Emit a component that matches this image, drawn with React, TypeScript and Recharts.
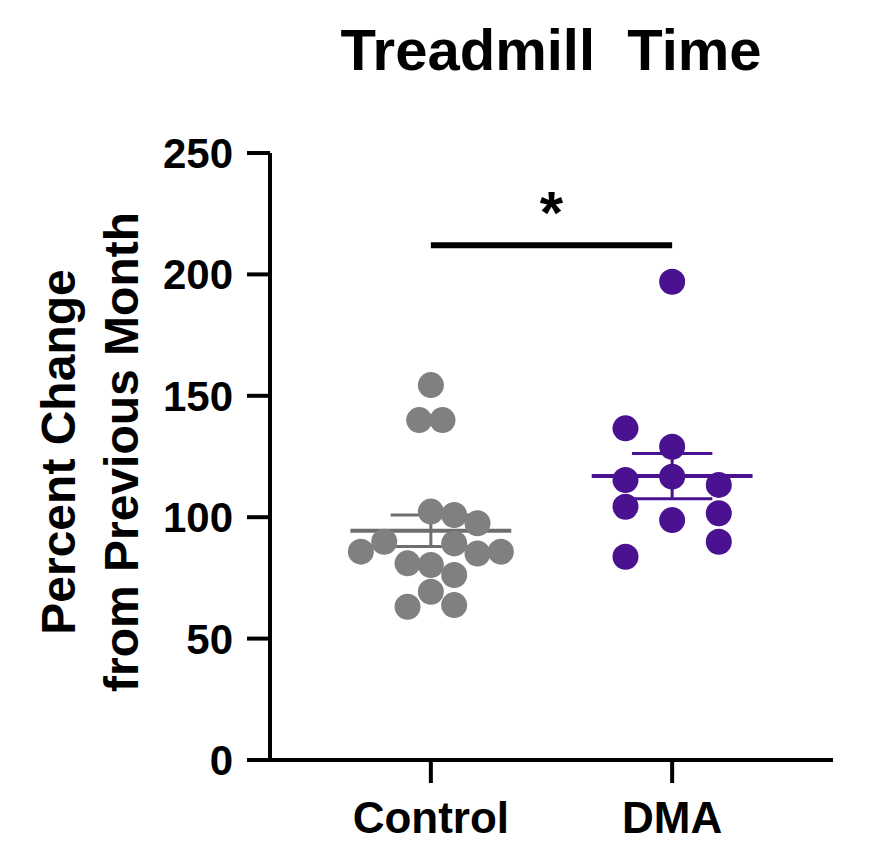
import React from 'react';
import { ScatterChart, Scatter, XAxis, YAxis, ReferenceLine } from 'recharts';

// group names and where they sit on the x scale
const groups = ['Control', 'DMA'];
const groupCenters = [1, 2.5];

// percent change values
const controlValues = [154.4, 140, 140, 102.3, 100.9, 97.5, 89.2, 89.9, 85.8, 81, 80.3, 85, 85.8, 76.2, 69.3, 63.1, 63.8];
const dmaValues = [197, 136.6, 129, 115.3, 116.7, 113.3, 104.3, 101.6, 98.8, 89.9, 83.7];

// beeswarm slot of each point (how many dot-steps left/right of the group center)
const controlSlots = [0, -0.5, 0.5, 0, 1, 2, 1, -2, -3, -1, 0, 2, 3, 1, 0, -1, 1];
const dmaSlots = [0, -2, 0, -2, 0, 2, -2, 2, 0, 2, -2];

const yTicks = [0, 50, 100, 150, 200, 250];
const significance = '*';

const FONT = '"Liberation Sans", Arial, sans-serif';
const GRAY = '#808080';
const PURPLE = '#4a1290';
const SLOT = 0.145;

const toPoints = (values: number[], slots: number[], center: number) =>
  values.map((v, i) => ({ x: center + slots[i] * SLOT, y: v }));

const mean = (a: number[]) => a.reduce((s, v) => s + v, 0) / a.length;
const sem = (a: number[]) => {
  const m = mean(a);
  const sd = Math.sqrt(a.reduce((s, v) => s + (v - m) * (v - m), 0) / (a.length - 1));
  return sd / Math.sqrt(a.length);
};

const controlData = toPoints(controlValues, controlSlots, groupCenters[0]);
const dmaData = toPoints(dmaValues, dmaSlots, groupCenters[1]);

const dot = (color: string) => (props: any) => (
  <circle cx={props.cx} cy={props.cy} r={13} fill={color} />
);

// mean line + SEM whiskers for one group
function summaryLines(values: number[], center: number, color: string, key: string) {
  const m = mean(values);
  const e = sem(values);
  return [
    <ReferenceLine key={key + 'm'} segment={[{ x: center - 0.5, y: m }, { x: center + 0.5, y: m }]} stroke={color} strokeWidth={4} ifOverflow="visible" />,
    <ReferenceLine key={key + 'u'} segment={[{ x: center - 0.25, y: m + e }, { x: center + 0.25, y: m + e }]} stroke={color} strokeWidth={3} ifOverflow="visible" />,
    <ReferenceLine key={key + 'l'} segment={[{ x: center - 0.25, y: m - e }, { x: center + 0.25, y: m - e }]} stroke={color} strokeWidth={3} ifOverflow="visible" />,
    <ReferenceLine key={key + 'v'} segment={[{ x: center, y: m - e }, { x: center, y: m + e }]} stroke={color} strokeWidth={3} ifOverflow="visible" />,
  ];
}

const YLabel = () => {
  const cy = 452;
  return (
    <g fontFamily={FONT} fontWeight="bold" fontSize={48} fill="#000">
      <text x={75} y={cy} textAnchor="middle" transform={`rotate(-90, 75, ${cy})`}>Percent Change</text>
      <text x={138} y={cy} textAnchor="middle" transform={`rotate(-90, 138, ${cy})`}>from Previous Month</text>
    </g>
  );
};

export default function App() {
  return (
    <div style={{ position: 'absolute', left: 0, top: 0, width: 891, height: 854, background: '#fff' }}>
      <ScatterChart width={891} height={854} margin={{ top: 153, right: 58, bottom: 0, left: 160 }}>
        <text x={551} y={70} textAnchor="middle" fontFamily={FONT} fontWeight="bold" fontSize={58} fill="#000">
          Treadmill{'\u00A0'} Time
        </text>
        <XAxis
          type="number"
          dataKey="x"
          domain={[0, 3.5]}
          ticks={groupCenters}
          tickFormatter={(v: number) => groups[groupCenters.indexOf(v)] ?? ''}
          axisLine={{ stroke: '#000', strokeWidth: 4 }}
          tickLine={{ stroke: '#000', strokeWidth: 4 }}
          tickSize={23}
          tickMargin={19}
          tick={{ fill: '#000', fontSize: 44, fontWeight: 'bold', fontFamily: FONT }}
          height={94}
          allowDataOverflow
        />
        <YAxis
          type="number"
          dataKey="y"
          domain={[0, 250]}
          ticks={yTicks}
          axisLine={{ stroke: '#000', strokeWidth: 4 }}
          tickLine={{ stroke: '#000', strokeWidth: 4 }}
          tickSize={23}
          tickMargin={14}
          tick={{ fill: '#000', fontSize: 42, fontWeight: 'bold', fontFamily: FONT }}
          width={110}
          label={{ content: YLabel }}
        />
        <Scatter data={controlData} fill={GRAY} shape={dot(GRAY)} isAnimationActive={false} />
        <Scatter data={dmaData} fill={PURPLE} shape={dot(PURPLE)} isAnimationActive={false} />
        {summaryLines(controlValues, groupCenters[0], '#6e6e6e', 'c')}
        {summaryLines(dmaValues, groupCenters[1], PURPLE, 'd')}
        <ReferenceLine
          segment={[{ x: groupCenters[0], y: 212 }, { x: groupCenters[1], y: 212 }]}
          stroke="#000"
          strokeWidth={6}
          ifOverflow="visible"
          label={{ value: significance, position: 'top', offset: 12, fontSize: 60, fontWeight: 'bold', fill: '#000', fontFamily: FONT }}
        />
      </ScatterChart>
    </div>
  );
}
